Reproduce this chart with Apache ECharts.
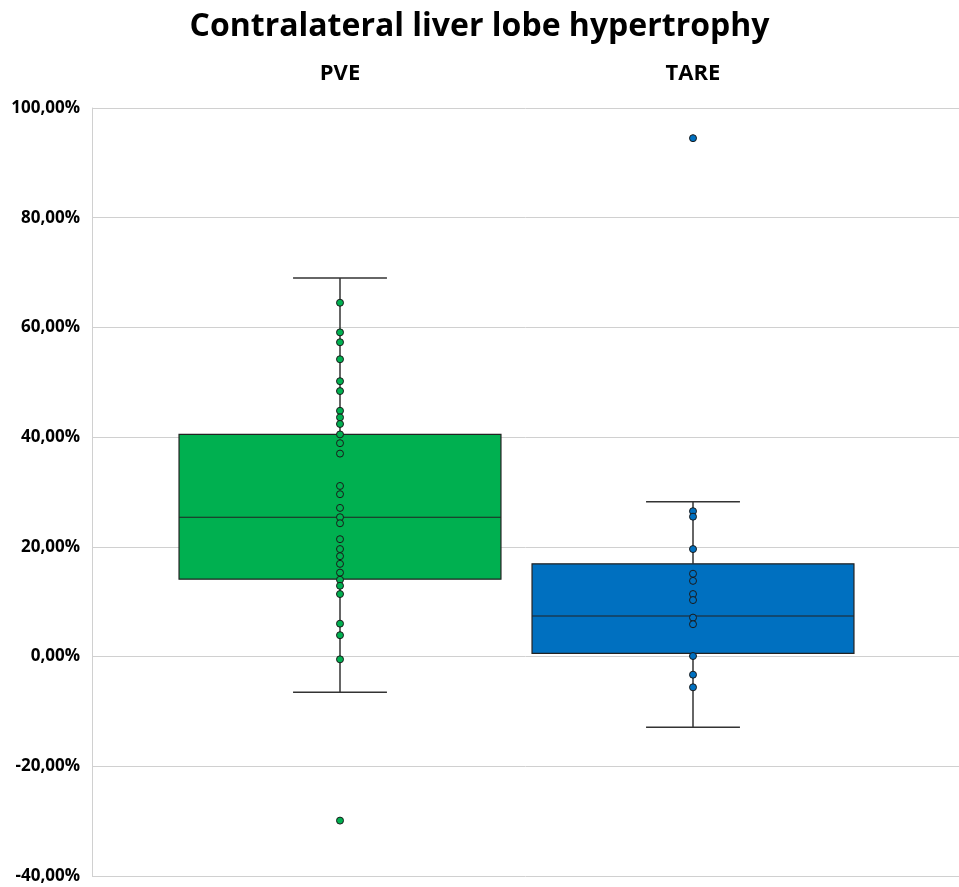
<!DOCTYPE html>
<html><head><meta charset="utf-8">
<script src="https://cdn.jsdelivr.net/npm/echarts@6/dist/echarts.min.js"></script>
<style>html,body{margin:0;padding:0;background:#fff}#c{width:959px;height:887px}</style>
</head><body><div id="c"></div>
<script>
const categories = ['PVE', 'TARE'];
const boxColors = ['#00B050', '#0070C0'];
// [min, Q1, median, Q3, max] in %
const pveBox = [-6.5, 14.1, 25.4, 40.5, 69.0];
const tareBox = [-12.9, 0.6, 7.4, 16.9, 28.2];
const pveValues = [64.5,59.1,57.3,54.2,50.2,48.4,44.8,43.6,42.4,40.5,38.9,37.0,31.1,29.6,27.1,25.4,24.3,21.4,19.6,18.3,16.9,15.3,14.0,12.9,11.4,6.0,3.9,-0.5,-29.9];
const tareValues = [94.5,26.5,25.5,19.6,15.1,13.8,11.4,10.3,7.1,5.9,0.1,-3.3,-5.6];
const yMin = -40, yMax = 100, yStep = 20;

const font = '"Open Sans", "Noto Sans", sans-serif';
const boxes = [pveBox, tareBox];
const boxData = boxes.map((b, i) => [i].concat(b));
const fmt = v => v.toFixed(2).replace('.', ',') + '%';

const chart = echarts.init(document.getElementById('c'));
chart.setOption({
  animation: false,
  title: {
    text: 'Contralateral liver lobe hypertrophy', left: 'center', top: 6,
    textStyle: {fontFamily: font, fontWeight: 'bold', fontSize: 32, color: '#000'}
  },
  grid: [
    {left: 92, right: 0, top: 108, bottom: 11},
    {left: 163.5, right: 89.5, top: 108, bottom: 11}
  ],
  xAxis: [
    {gridIndex: 0, type: 'value', show: false, min: 0, max: 1},
    {gridIndex: 1, type: 'category', data: categories, position: 'top',
     axisLine: {show: false}, axisTick: {show: false},
     axisLabel: {margin: 23, fontFamily: font, fontWeight: 'bold', fontSize: 22, color: '#000'}}
  ],
  yAxis: [
    {gridIndex: 0, type: 'value', min: yMin, max: yMax, interval: yStep,
     axisLine: {show: true, lineStyle: {color: '#d0d0d0'}}, axisTick: {show: false},
     splitLine: {lineStyle: {color: '#d0d0d0', width: 1}},
     axisLabel: {formatter: fmt, margin: 12, fontFamily: font, fontWeight: 'bold', fontSize: 17, color: '#000'}},
    {gridIndex: 1, type: 'value', min: yMin, max: yMax, interval: yStep, show: false}
  ],
  series: [
    {
      type: 'custom', xAxisIndex: 1, yAxisIndex: 1, data: boxData, z: 2,
      encode: {x: 0, y: [1, 2, 3, 4, 5]},
      renderItem: function (params, api) {
        const i = api.value(0);
        const band = api.size([1, 0])[0];
        const hb = band * 0.912 / 2, hc = band * 0.266 / 2;
        const pMin = api.coord([i, api.value(1)]);
        const pQ1 = api.coord([i, api.value(2)]);
        const pMed = api.coord([i, api.value(3)]);
        const pQ3 = api.coord([i, api.value(4)]);
        const pMax = api.coord([i, api.value(5)]);
        const cx = pMed[0];
        const ls = {stroke: '#333', lineWidth: 1.5};
        return {type: 'group', children: [
          {type: 'line', shape: {x1: cx, y1: pMax[1], x2: cx, y2: pQ3[1]}, style: ls},
          {type: 'line', shape: {x1: cx, y1: pQ1[1], x2: cx, y2: pMin[1]}, style: ls},
          {type: 'line', shape: {x1: cx - hc, y1: pMax[1], x2: cx + hc, y2: pMax[1]}, style: ls},
          {type: 'line', shape: {x1: cx - hc, y1: pMin[1], x2: cx + hc, y2: pMin[1]}, style: ls},
          {type: 'rect', shape: {x: cx - hb, y: pQ3[1], width: hb * 2, height: pQ1[1] - pQ3[1]},
           style: {fill: boxColors[i], stroke: '#222', lineWidth: 1.2}},
          {type: 'line', shape: {x1: cx - hb, y1: pMed[1], x2: cx + hb, y2: pMed[1]}, style: {stroke: '#222', lineWidth: 1.2}}
        ]};
      }
    },
    {
      type: 'scatter', xAxisIndex: 1, yAxisIndex: 1, z: 5, symbolSize: 7,
      data: pveValues.map(v => [0, v]),
      itemStyle: {color: boxColors[0], borderColor: '#1a1a1a', borderWidth: 1, opacity: 1}
    },
    {
      type: 'scatter', xAxisIndex: 1, yAxisIndex: 1, z: 5, symbolSize: 7,
      data: tareValues.map(v => [1, v]),
      itemStyle: {color: boxColors[1], borderColor: '#1a1a1a', borderWidth: 1, opacity: 1}
    }
  ]
});
</script></body></html>
